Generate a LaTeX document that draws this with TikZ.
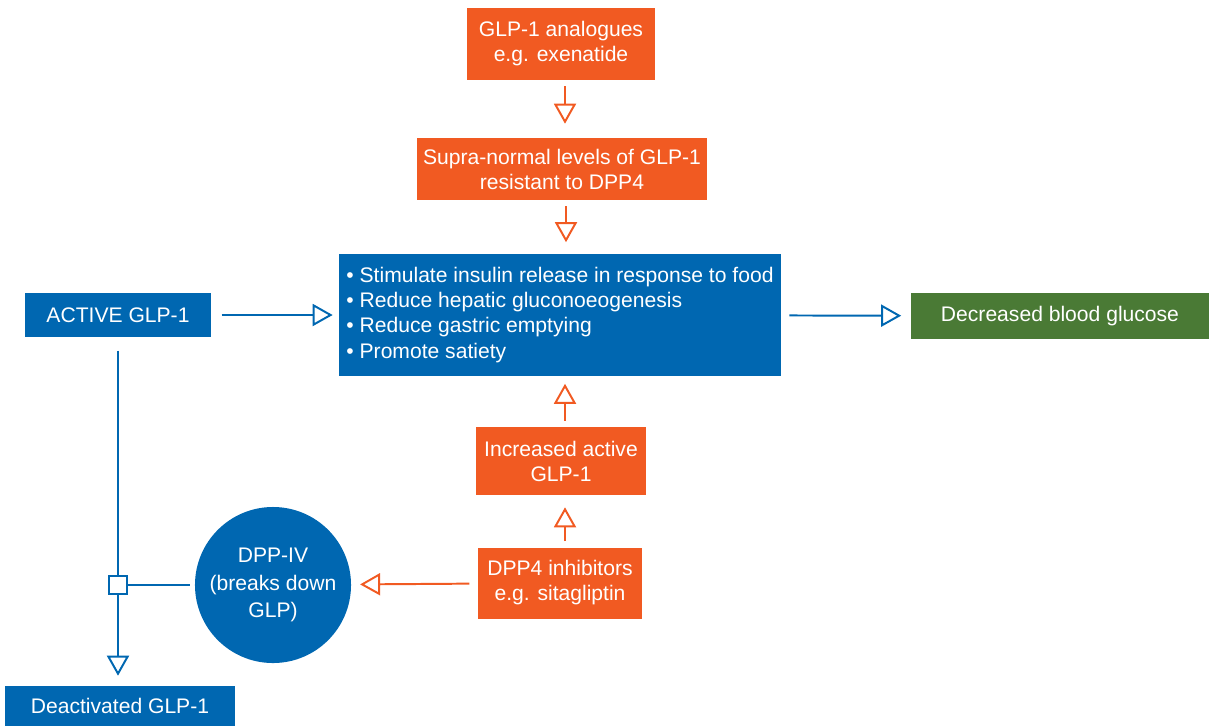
\documentclass[tikz,border=0pt]{standalone}
\usepackage{fontspec}
\setmainfont{Liberation Sans}
\usetikzlibrary{positioning,shapes,calc,arrows.meta}

\definecolor{glpblue}{HTML}{0067B1}
\definecolor{glporange}{HTML}{F15A22}
\definecolor{glpgreen}{HTML}{4A7A35}

\tikzset{
  box/.style={text=white, inner sep=0pt, align=center,
    font=\fontsize{15}{17.8}\selectfont},
  bluebox/.style={box, fill=glpblue},
  orangebox/.style={box, fill=glporange},
  greenbox/.style={box, fill=glpgreen},
  openhead/.style={-{Triangle[open,length=0.5cm,width=0.55cm]}},
  bluearrow/.style={draw=glpblue, line width=1.4pt, openhead, shorten <=0.2cm, shorten >=0.25cm},
  orangearrow/.style={draw=glporange, line width=1.4pt, openhead, shorten <=0.15cm, shorten >=0.3cm},
  blueline/.style={draw=glpblue, line width=1.4pt},
}

\begin{document}
\begin{tikzpicture}[x=0.025cm, y=-0.025cm]
  \useasboundingbox (0,0) rectangle (1210,726);

  \node[orangebox, minimum width=4.675cm, minimum height=1.8cm] (analog) at (561,44)
    {GLP-1 analogues\\e.g. exenatide};
  \node[orangebox, minimum width=7.225cm, minimum height=1.55cm] (supra) at (562,169)
    {Supra-normal levels of GLP-1\\resistant to DPP4};
  \node[bluebox, minimum width=11.05cm, minimum height=3.025cm, align=left] (effects) at (560,315)
    {\textbullet{} Stimulate insulin release in response to food\\
     \textbullet{} Reduce hepatic gluconoeogenesis\\
     \textbullet{} Reduce gastric emptying\\
     \textbullet{} Promote satiety};
  \node[bluebox, minimum width=4.625cm, minimum height=1.1cm] (active) at (118,315) {ACTIVE GLP-1};
  \node[greenbox, minimum width=7.425cm, minimum height=1.15cm] (glucose) at (1060,316) {Decreased blood glucose};
  \node[orangebox, minimum width=4.25cm, minimum height=1.7cm] (incr) at (561,461)
    {Increased active\\GLP-1};
  \node[orangebox, minimum width=4.075cm, minimum height=1.775cm] (inhib) at (560,583)
    {DPP4 inhibitors\\e.g. sitagliptin};
  \node[circle, fill=glpblue, text=white, minimum size=3.9cm, inner sep=0pt, align=center,
    font=\fontsize{15}{19.8}\selectfont] (dpp) at (273,585)
    {DPP-IV\\(breaks down\\GLP)};
  \node[bluebox, minimum width=5.725cm, minimum height=1.0cm] (deact) at (120,706) {Deactivated GLP-1};
  \node[draw=glpblue, fill=white, line width=1.4pt, minimum size=0.45cm, inner sep=0pt] (jn) at (118,585) {};

  % orange arrows
  \draw[orangearrow, shorten >=0.35cm] ([xshift=0.1cm]analog.south) -- ([xshift=0.1cm]analog.south |- supra.north);
  \draw[orangearrow] ([xshift=0.1cm]supra.south) -- ([xshift=0.1cm]supra.south |- effects.north);
  \draw[orangearrow, shorten >=0.2cm] ([xshift=0.1cm]incr.north) -- ([xshift=0.1cm]incr.north |- effects.south);
  \draw[orangearrow] ([xshift=0.1cm]inhib.north -| incr) -- ([xshift=0.1cm]incr.south);
  \draw[orangearrow, shorten <=0.22cm, shorten >=0.22cm] (inhib) -- (dpp);

  % blue arrows
  \draw[bluearrow, shorten <=0.27cm, shorten >=0.15cm] (active) -- (effects);
  \draw[bluearrow] (effects) -- (glucose);
  \draw[blueline, shorten <=0.33cm] (active.south) -- (jn.north);
  \draw[bluearrow, shorten <=0cm] (jn.south) -- (jn |- deact.north);
  \draw[blueline, shorten <=0.125cm] (dpp) -- (jn.east);
\end{tikzpicture}
\end{document}
